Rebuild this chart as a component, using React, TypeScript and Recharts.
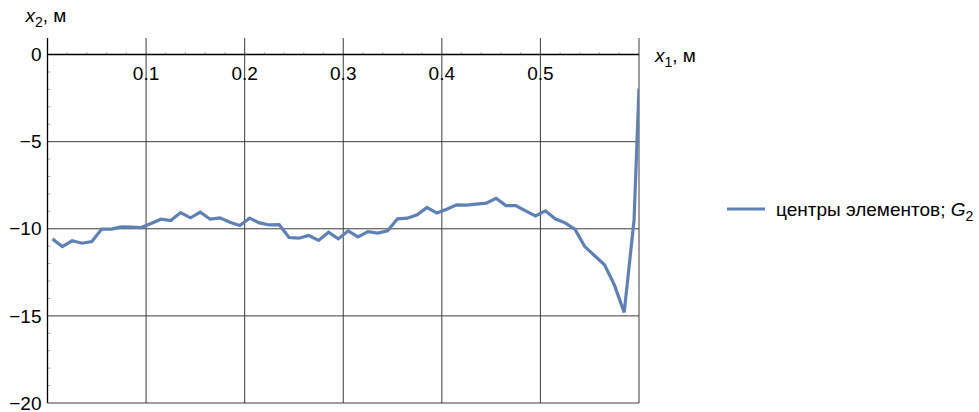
import React from 'react';
import { ComposedChart, Line, XAxis, YAxis, ReferenceLine, ReferenceDot, Legend } from 'recharts';

// element centres, x1 in metres
const x1Values = [
  0.005, 0.015, 0.025, 0.035, 0.045, 0.055, 0.065, 0.075, 0.085, 0.095,
  0.105, 0.115, 0.125, 0.135, 0.145, 0.155, 0.165, 0.175, 0.185, 0.195,
  0.205, 0.215, 0.225, 0.235, 0.245, 0.255, 0.265, 0.275, 0.285, 0.295,
  0.305, 0.315, 0.325, 0.335, 0.345, 0.355, 0.365, 0.375, 0.385, 0.395,
  0.405, 0.415, 0.425, 0.435, 0.445, 0.455, 0.465, 0.475, 0.485, 0.495,
  0.505, 0.515, 0.525, 0.535, 0.545, 0.555, 0.565, 0.575, 0.585, 0.595,
  0.6,
];

// x2 in metres
const x2Values = [
  -10.58, -11.02, -10.69, -10.83, -10.73, -10.02, -10.02, -9.89, -9.91, -9.93,
  -9.7, -9.45, -9.53, -9.07, -9.37, -9.05, -9.45, -9.37, -9.62, -9.81,
  -9.39, -9.66, -9.78, -9.76, -10.5, -10.54, -10.39, -10.67, -10.2, -10.58,
  -10.12, -10.46, -10.16, -10.25, -10.12, -9.43, -9.39, -9.2, -8.78, -9.1,
  -8.88, -8.63, -8.64, -8.59, -8.53, -8.25, -8.67, -8.67, -8.97, -9.26,
  -8.97, -9.43, -9.66, -10.02, -11.02, -11.55, -12.07, -13.22, -14.8, -9.49,
  -1.95,
];

const xTickLabels = [0.1, 0.2, 0.3, 0.4, 0.5];
const xGridLines = [0.1, 0.2, 0.3, 0.4, 0.5, 0.6];
const yTickLabels = [0, -5, -10, -15, -20];
const xMinorTicks = [
  0.02, 0.04, 0.06, 0.08, 0.12, 0.14, 0.16, 0.18, 0.22, 0.24, 0.26, 0.28,
  0.32, 0.34, 0.36, 0.38, 0.42, 0.44, 0.46, 0.48, 0.52, 0.54, 0.56, 0.58,
];
const yMinorTicks = [
  -1, -2, -3, -4, -6, -7, -8, -9, -11, -12, -13, -14, -16, -17, -18, -19,
];

const data = x1Values.map((x, i) => ({ x, y: x2Values[i] }));

const FONT = '"Liberation Sans", Arial, sans-serif';
const FS = 19;
const LINE_COLOR = '#5e81b5';
const GRID_COLOR = '#3c3c3c';

const fmt = (v: number) => (v < 0 ? '\u2212' + Math.abs(v) : String(v));

const XTick = (text: string) => (p: any) => (
  <text x={p.viewBox.x} y={p.viewBox.y + 19} dy="0.35em" textAnchor="middle" fontFamily={FONT} fontSize={FS} fill="#000">
    {text}
  </text>
);

const YTick = (text: string) => (p: any) => (
  <text x={p.viewBox.x - 6} y={p.viewBox.y} dy="0.35em" textAnchor="end" fontFamily={FONT} fontSize={FS} fill="#000">
    {text}
  </text>
);

const Y2Title = (p: any) => (
  <text x={p.viewBox.x - 22} y={p.viewBox.y - 16} fontFamily={FONT} fontSize={FS} fill="#000">
    <tspan fontStyle="italic">x</tspan>
    <tspan dy={5} fontSize={14}>2</tspan>
    <tspan dy={-5}>, м</tspan>
  </text>
);

const X1Title = (p: any) => (
  <text x={p.viewBox.x + 16} y={p.viewBox.y + 7} fontFamily={FONT} fontSize={FS} fill="#000">
    <tspan fontStyle="italic">x</tspan>
    <tspan dy={5} fontSize={14}>1</tspan>
    <tspan dy={-5}>, м</tspan>
  </text>
);

const LegendContent = () => (
  <svg width={260} height={30}>
    <line x1={0} x2={38} y1={15} y2={15} stroke={LINE_COLOR} strokeWidth={3.2} />
    <text x={49} y={15} dy="0.35em" fontFamily={FONT} fontSize={FS} fill="#000">
      центры элементов; <tspan fontStyle="italic">G</tspan>
      <tspan dy={5} fontSize={14}>2</tspan>
    </text>
  </svg>
);

export default function App() {
  return (
    <div style={{ position: 'absolute', left: 0, top: 0, background: '#fff' }}>
      <ComposedChart width={979} height={412} data={data} margin={{ top: 38, right: 340, bottom: 9, left: 47.5 }}>
        <XAxis type="number" dataKey="x" domain={[0, 0.6]} allowDataOverflow hide />
        <YAxis type="number" domain={[-20, 0.95]} allowDataOverflow hide />
        {xGridLines.map((t) => (
          <ReferenceLine key={'gx' + t} x={t} stroke={GRID_COLOR} strokeWidth={1} ifOverflow="visible" />
        ))}
        {yTickLabels.filter((t) => t !== 0).map((t) => (
          <ReferenceLine key={'gy' + t} y={t} stroke={GRID_COLOR} strokeWidth={1} ifOverflow="visible" />
        ))}
        {xMinorTicks.map((t) => (
          <ReferenceLine key={'mx' + t} segment={[{ x: t, y: 0 }, { x: t, y: 0.13 }]} stroke="#aaa" ifOverflow="visible" />
        ))}
        {yMinorTicks.map((t) => (
          <ReferenceLine key={'my' + t} segment={[{ x: 0, y: t }, { x: 0.003, y: t }]} stroke="#aaa" ifOverflow="visible" />
        ))}
        <ReferenceLine x={0} stroke="#000" strokeWidth={1.3} ifOverflow="visible" />
        <ReferenceLine y={0} stroke="#000" strokeWidth={1.6} ifOverflow="visible" />
        <Line
          type="linear"
          dataKey="y"
          name="центры элементов; G2"
          stroke={LINE_COLOR}
          strokeWidth={3.2}
          dot={false}
          activeDot={false}
          isAnimationActive={false}
        />
        {xTickLabels.map((t) => (
          <ReferenceDot key={'lx' + t} x={t} y={0} r={0} fill="none" stroke="none" ifOverflow="visible" label={XTick(String(t))} />
        ))}
        {yTickLabels.map((t) => (
          <ReferenceDot key={'ly' + t} x={0} y={t} r={0} fill="none" stroke="none" ifOverflow="visible" label={YTick(fmt(t))} />
        ))}
        <ReferenceDot x={0} y={0.95} r={0} fill="none" stroke="none" ifOverflow="visible" label={Y2Title} />
        <ReferenceDot x={0.6} y={0} r={0} fill="none" stroke="none" ifOverflow="visible" label={X1Title} />
        <Legend
          layout="horizontal"
          align="center"
          verticalAlign="middle"
          width={260}
          wrapperStyle={{ left: 727, top: 194 }}
          content={LegendContent}
        />
      </ComposedChart>
    </div>
  );
}
